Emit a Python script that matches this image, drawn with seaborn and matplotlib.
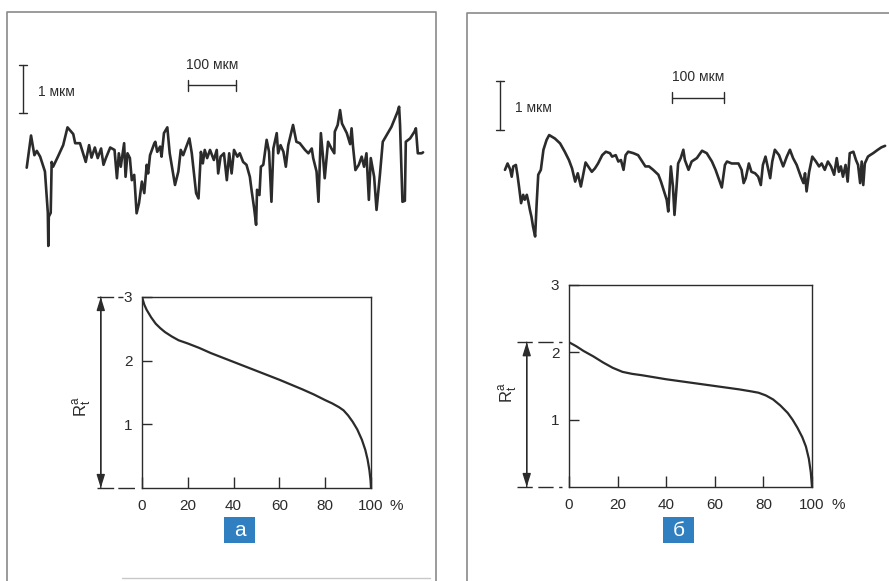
import matplotlib
matplotlib.use("Agg")
import matplotlib.pyplot as plt
import seaborn as sns
from matplotlib.patches import Rectangle
from matplotlib.lines import Line2D

sns.set_style("white")
plt.rcParams["font.family"] = ["Liberation Sans", "DejaVu Sans"]

W, H = 889, 581
INK = "#2b2b2b"
FRAME = "#8a8a8a"
BLUE = "#2f7fc1"

# --- surface profiles (x: мкм along the trace, y: мкм height) ---
prof_a_x = [0, 9, 16, 21, 28, 38, 44, 45, 46, 50, 52, 55, 65, 76, 85, 97, 101, 111,
            123, 130, 135, 142, 148, 155, 160, 165, 174, 183, 188, 192, 196, 203, 206,
            210, 215, 219, 224, 229, 234, 240, 245, 250, 253, 257, 266, 268, 272, 278,
            281, 286, 293, 298, 309, 316, 321, 326, 339, 344, 353, 358, 363, 367, 371,
            376, 382, 390, 396, 399, 404, 411, 417, 422, 427, 432, 439, 444, 451, 458,
            465, 469, 474, 478, 480, 485, 488, 493, 500, 505, 510, 514, 521, 524, 529,
            535, 540, 545, 555, 562, 569, 580, 587, 594, 597, 604, 608, 613, 618, 621,
            628, 635, 641, 642, 648, 653, 657, 667, 674, 677, 680, 685, 692, 698, 703,
            708, 713, 717, 724, 729, 736, 742, 760, 773, 776, 778, 783, 788, 790, 799,
            808, 811, 815, 823, 826]
prof_a_y = [-0.16, 0.51, 0.10, 0.19, 0.07, -0.24, -1.10, -1.79, -1.18, -1.10, -0.04,
            -0.14, 0.07, 0.31, 0.68, 0.54, 0.35, 0.35, -0.04, 0.31, 0.05, 0.26, 0.04,
            0.24, -0.10, 0.04, 0.26, 0.21, -0.38, 0.14, -0.14, 0.35, -0.35, 0.14, 0.04,
            -0.42, -0.31, -1.11, -0.90, -0.45, -0.69, -0.10, -0.28, 0.10, 0.35, 0.38,
            0.17, 0.28, 0.07, 0.56, 0.68, 0.14, -0.52, -0.24, 0.21, 0.10, 0.45, 0.14,
            -0.69, -0.80, 0.17, -0.07, 0.21, 0.04, 0.21, 0.00, 0.21, -0.28, 0.07, 0.14,
            -0.42, 0.14, -0.28, 0.21, 0.07, 0.14, -0.04, -0.10, -0.35, -0.66, -1.01,
            -1.35, -0.62, -0.73, -0.14, -0.10, 0.42, 0.17, -0.87, 0.24, 0.56, 0.14,
            0.31, 0.17, -0.14, 0.31, 0.73, 0.38, 0.35, 0.21, 0.14, 0.24, 0.04, -0.24,
            -0.87, 0.56, 0.00, -0.38, 0.38, 0.24, 0.14, 0.59, 0.73, 1.04, 0.76, 0.56,
            0.33, 0.66, 0.28, -0.21, -0.10, 0.07, -0.14, 0.14, -0.83, 0.04, -0.35,
            -1.04, -0.31, 0.38, 0.69, 1.01, 1.11, 0.73, -0.87, -0.85, 0.38, 0.45, 0.59,
            0.66, 0.14, 0.14, 0.16]

prof_b_x = [0, 5, 10, 13, 16, 21, 24, 27, 31, 35, 38, 42, 45, 48, 51, 54, 58, 61, 64,
            69, 74, 80, 85, 96, 106, 115, 123, 129, 135, 140, 146, 151, 155, 160, 167,
            173, 179, 187, 194, 202, 206, 213, 218, 223, 228, 232, 237, 247, 256, 264,
            270, 277, 285, 295, 300, 306, 311, 314, 319, 323, 326, 330, 333, 338, 343,
            346, 353, 359, 369, 379, 388, 398, 405, 412, 417, 423, 427, 436, 449, 455,
            459, 463, 469, 474, 481, 487, 492, 496, 501, 505, 510, 514, 519, 527, 535,
            542, 548, 554, 561, 569, 574, 577, 580, 585, 591, 598, 604, 609, 615, 621,
            627, 633, 638, 642, 646, 650, 655, 659, 663, 670, 675, 679, 683, 686, 689,
            692, 698, 702, 708, 717, 724, 731]
prof_b_y = [-0.10, 0.03, -0.09, -0.24, -0.03, 0.00, -0.20, -0.44, -0.78, -0.61, -0.71,
            -0.61, -0.75, -0.92, -1.06, -1.26, -1.46, -0.78, -0.20, -0.10, 0.31, 0.51,
            0.61, 0.54, 0.44, 0.27, 0.10, -0.07, -0.34, -0.17, -0.44, -0.17, 0.05,
            -0.03, -0.14, -0.07, 0.03, 0.20, 0.27, 0.24, 0.17, 0.20, 0.07, 0.10, -0.10,
            0.20, 0.27, 0.24, 0.20, 0.07, -0.03, -0.03, -0.10, -0.20, -0.34, -0.54,
            -0.71, -0.95, -0.03, -0.44, -1.02, -0.44, 0.03, 0.14, 0.31, 0.10, -0.10,
            0.07, 0.14, 0.29, 0.24, 0.07, -0.10, -0.31, -0.46, 0.00, 0.07, 0.03, 0.03,
            -0.10, -0.37, -0.27, 0.03, -0.14, -0.17, -0.24, -0.41, 0.00, 0.17, -0.03,
            -0.27, 0.07, 0.31, 0.20, -0.03, 0.17, 0.31, 0.14, 0.00, -0.24, -0.37, -0.17,
            -0.54, -0.14, 0.17, 0.07, -0.03, 0.03, -0.10, 0.07, -0.03, -0.20, 0.14,
            -0.14, -0.03, -0.24, 0.00, -0.34, 0.24, 0.27, 0.10, 0.00, -0.37, 0.07,
            -0.41, 0.03, 0.17, 0.20, 0.24, 0.31, 0.36, 0.39]

# --- bearing (Abbott) curves: R_t^a vs. % ---
curve_a_pct = [0, 1, 2, 4, 6, 8, 10, 13, 16, 20, 25, 30, 40, 50, 60, 70, 75, 80, 83,
               86, 88, 90, 92, 94, 96, 97.5, 98.5, 99.3, 99.8, 100]
curve_a_r = [3.0, 2.88, 2.8, 2.68, 2.58, 2.51, 2.45, 2.38, 2.32, 2.27, 2.2, 2.12, 1.98,
             1.84, 1.70, 1.55, 1.47, 1.38, 1.33, 1.27, 1.22, 1.14, 1.04, 0.92, 0.76,
             0.6, 0.45, 0.28, 0.12, 0.0]
curve_b_pct = [0, 3, 6, 10, 14, 18, 22, 26, 30, 40, 50, 60, 70, 75, 78, 81, 84, 87, 90,
               92, 94, 96, 97.5, 98.7, 99.5, 100]
curve_b_r = [2.15, 2.09, 2.02, 1.94, 1.85, 1.77, 1.71, 1.68, 1.66, 1.6, 1.55, 1.5, 1.45,
             1.42, 1.4, 1.36, 1.3, 1.21, 1.1, 1.0, 0.88, 0.74, 0.6, 0.42, 0.22, 0.0]

x_ticks = [0, 20, 40, 60, 80, 100]
y_ticks = [1, 2, 3]
panel_labels = ["а", "б"]
scale_v_text = "1 мкм"
scale_h_text = "100 мкм"

fig = plt.figure(figsize=(W / 100, H / 100), dpi=100)
fig.patch.set_facecolor("white")


def px_axes(l, t, r, b):
    return fig.add_axes([l / W, 1 - b / H, (r - l) / W, (b - t) / H])


def fig_line(xs, ys, **kw):
    fig.add_artist(Line2D([x / W for x in xs], [1 - y / H for y in ys],
                          transform=fig.transFigure, **kw))


def draw_profile(box, xlim, ylim, xs, ys, vbar, hbar, vtext_xy, htext_xy):
    ax = px_axes(*box)
    sns.lineplot(x=xs, y=ys, ax=ax, color=INK, lw=1.9, sort=False, estimator=None)
    ax.set_xlim(*xlim)
    ax.set_ylim(*ylim)
    ax.set_axis_off()
    # vertical scale bar: 1 мкм
    vx, vy0 = vbar
    cap = 0.01 * (xlim[1] - xlim[0])
    ax.plot([vx, vx], [vy0, vy0 + 1], color=INK, lw=1)
    for yy in (vy0, vy0 + 1):
        ax.plot([vx - cap, vx + cap], [yy, yy], color=INK, lw=1)
    ax.text(*vtext_xy, scale_v_text, fontsize=10, color=INK, va="center", ha="left")
    # horizontal scale bar: 100 мкм
    hx0, hy = hbar
    tick = 0.025 * (ylim[1] - ylim[0])
    ax.plot([hx0, hx0 + 100], [hy, hy], color=INK, lw=1)
    for xx in (hx0, hx0 + 100):
        ax.plot([xx, xx], [hy - tick, hy + tick], color=INK, lw=1)
    ax.text(*htext_xy, scale_h_text, fontsize=10, color=INK, va="center", ha="center")
    return ax


def draw_bearing(box, pct, r, r_top, arrow_x, ext_top, ext_bot, label_xy, dash):
    ax = px_axes(*box)
    sns.lineplot(x=pct, y=r, ax=ax, color=INK, lw=1.6, sort=False, estimator=None)
    ax.set_xlim(0, 100)
    ax.set_ylim(0, 3)
    ax.set_xticks(x_ticks)
    ax.set_yticks(y_ticks)
    ax.set_xlabel("")
    ax.set_ylabel("")
    ax.tick_params(direction="in", colors=INK, labelsize=11, width=1)
    ax.tick_params(axis="x", length=8, pad=8, bottom=True)
    ax.tick_params(axis="y", length=7, pad=7, left=True)
    for s in ax.spines.values():
        s.set_color(INK)
        s.set_linewidth(1)
    style = "-|>,head_length=0.8,head_width=0.25"
    for a, b in ((0, r_top), (r_top, 0)):
        ax.annotate("", xy=(arrow_x, b), xytext=(arrow_x, a),
                    arrowprops=dict(arrowstyle=style, color=INK, lw=1,
                                    shrinkA=0, shrinkB=0),
                    annotation_clip=False)
    ax.plot(ext_top, [r_top, r_top], color=INK, lw=1, ls=(0, dash), clip_on=False)
    ax.plot(ext_bot, [0, 0], color=INK, lw=1, ls=(0, dash), clip_on=False)
    ax.text(*label_xy, r"$\mathregular{R_t^a}$", rotation=90, fontsize=12,
            color=INK, ha="center", va="center")
    ax.annotate("%", xy=(111, 0), xycoords=("data", "axes fraction"),
                xytext=(0, -8), textcoords="offset points", ha="center", va="top",
                fontsize=11, color=INK)
    return ax


# profiles
draw_profile((8, 40, 437, 260), (-39, 855), (-2.083, 2.5), prof_a_x, prof_a_y,
             vbar=(-8, 0.98), hbar=(336, 1.56), vtext_xy=(24, 1.42),
             htext_xy=(386, 1.97))
draw_profile((467, 40, 889, 260), (-73, 738.5), (-1.94, 2.55), prof_b_x, prof_b_y,
             vbar=(-10, 0.71), hbar=(321, 1.37), vtext_xy=(20, 1.16),
             htext_xy=(371, 1.80))

# bearing curves
draw_bearing((142, 297, 371, 488), curve_a_pct, curve_a_r, curve_a_r[0],
             arrow_x=-18, ext_top=(-19.5, -8.5), ext_bot=(-19.5, -3.0),
             label_xy=(-26, 1.27), dash=(12, 3))
draw_bearing((569, 285, 812, 487), curve_b_pct, curve_b_r, curve_b_r[0],
             arrow_x=-17.4, ext_top=(-21.4, -2.9), ext_bot=(-21.4, -2.9),
             label_xy=(-25, 1.40), dash=(11, 4))

# panel frames
fig_line([7, 7, 436, 436], [581, 12, 12, 581], color=FRAME, lw=1.2)
fig_line([467, 467, 889], [581, 13, 13], color=FRAME, lw=1.2)
fig_line([122, 430], [578, 578], color="#c8c8c8", lw=1)

# panel letters
for cx, lab in zip((239.5, 678.5), panel_labels):
    fig.add_artist(Rectangle(((cx - 15.5) / W, 1 - 543 / H), 31 / W, 26 / H,
                             transform=fig.transFigure, color=BLUE, lw=0))
    fig.text(cx / W, 1 - 530 / H, lab, color="white", fontsize=15, ha="center",
             va="center", family=["Liberation Sans Narrow", "Liberation Sans"])

fig.savefig("out.png", dpi=100)
